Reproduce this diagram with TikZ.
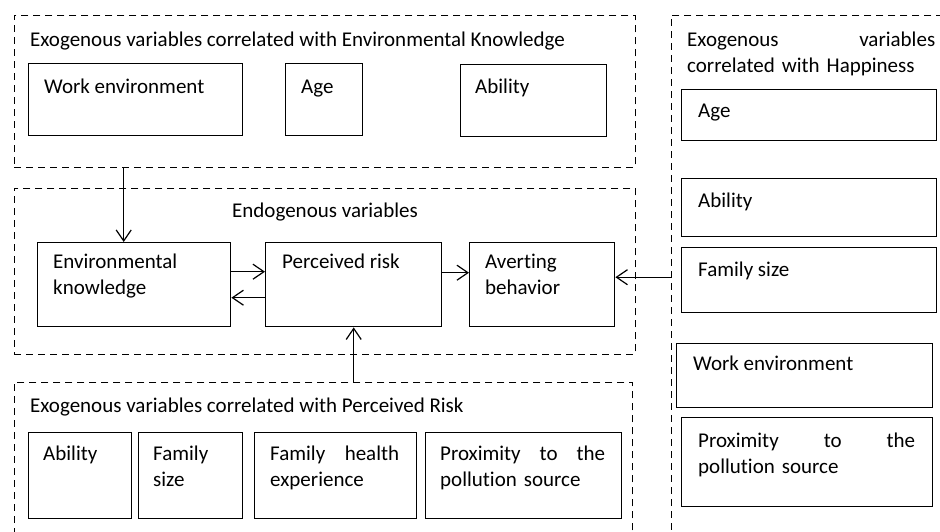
\documentclass[tikz,border=0pt]{standalone}
\usepackage{fontspec}
\setmainfont{Carlito}[Ligatures=NoCommon]
\usetikzlibrary{arrows.meta}
\begin{document}
\begin{tikzpicture}[x=1pt,y=-1pt,
  font=\fontsize{21}{26.5}\selectfont,
  box/.style={draw, line width=1.4pt, inner sep=0pt, anchor=north west},
  grp/.style={draw, line width=0.9pt, dash pattern=on 7pt off 5pt, inner sep=0pt, anchor=north west},
  txt/.style={anchor=base west, inner sep=0pt},
  mtxt/.style={anchor=base west, inner sep=0pt, align=left, text width=#1},
  arr/.style={line width=1.2pt, -{Straight Barb[length=11pt,width=15pt,line width=1.2pt]}}]
\useasboundingbox (0,0) rectangle (940,531);
\clip (0,0) rectangle (940,531);

% dashed groups
\node[grp, minimum width=621pt, minimum height=152pt] (ekgrp) at (14,15) {};
\node[grp, minimum width=621pt, minimum height=166pt] (endgrp) at (14,188) {};
\node[grp, minimum width=618pt, minimum height=190pt] (rskgrp) at (14,382) {};
\node[grp, minimum width=300pt, minimum height=560pt] (hapgrp) at (671,15) {};

% exogenous variables: environmental knowledge
\node[txt] (ekttl) at (30,46) {Exogenous variables correlated with Environmental Knowledge};
\node[box, minimum width=214pt, minimum height=72pt] (ekwork) at (28,63) {};
\node[txt] (ekworkt) at (44,93) {Work environment};
\node[box, minimum width=77pt, minimum height=72pt] (ekage) at (285,63) {};
\node[txt] (ekaget) at (301,93) {Age};
\node[box, minimum width=146pt, minimum height=72pt] (ekabil) at (460,64) {};
\node[txt] (ekabilt) at (475,93) {Ability};

% endogenous variables
\node[anchor=base, inner sep=0pt] (endttl) at (325,217) {Endogenous variables};
\node[box, minimum width=193pt, minimum height=84pt] (ek) at (37,242) {};
\node[mtxt=170pt] (ekt) at (53,268) {Environmental\\knowledge};
\node[box, minimum width=176pt, minimum height=84pt] (pr) at (265,242) {};
\node[txt] (prt) at (282,268) {Perceived risk};
\node[box, minimum width=145pt, minimum height=84pt] (ab) at (469,242) {};
\node[mtxt=120pt] (abt) at (485,268) {Averting\\behavior};

% exogenous variables: perceived risk
\node[txt] (rskttl) at (30,412) {Exogenous variables correlated with Perceived Risk};
\node[box, minimum width=103pt, minimum height=86pt] (rabil) at (28,432) {};
\node[txt] (rabilt) at (43,460) {Ability};
\node[box, minimum width=104pt, minimum height=86pt] (rfam) at (138,432) {};
\node[mtxt=80pt] (rfamt) at (153,460) {Family\\size};
\node[box, minimum width=162pt, minimum height=86pt] (rhealth) at (254,432) {};
\node[mtxt=135pt] (rhealtht) at (270,460) {\makebox[129pt][l]{Family\hfill health}\\experience};
\node[box, minimum width=196pt, minimum height=86pt] (rprox) at (425,432) {};
\node[mtxt=175pt] (rproxt) at (440,460) {\makebox[165pt][l]{Proximity\hfill to\hfill the}\\pollution source};

% exogenous variables: happiness
\node[mtxt=252pt] (hapttl) at (687,46) {\makebox[248pt][l]{Exogenous\hfill variables}\\correlated with Happiness};
\node[box, minimum width=255pt, minimum height=51pt] (hage) at (681,89) {};
\node[txt] (haget) at (698,117) {Age};
\node[box, minimum width=255pt, minimum height=58pt] (habil) at (681,178) {};
\node[txt] (habilt) at (698,207) {Ability};
\node[box, minimum width=255pt, minimum height=65pt] (hfam) at (681,247) {};
\node[txt] (hfamt) at (698,276) {Family size};
\node[box, minimum width=256pt, minimum height=64pt] (hwork) at (676,343) {};
\node[txt] (hworkt) at (693,370) {Work environment};
\node[box, minimum width=251pt, minimum height=89pt] (hprox) at (681,417) {};
\node[mtxt=230pt] (hproxt) at (698,447) {\makebox[217pt][l]{Proximity\hfill to\hfill the}\\pollution source};

% connectors
\draw[arr] ([xshift=-10.5pt]ek.north |- ekgrp.south) -- ([xshift=-10.5pt]ek.north);
\draw[arr] ([yshift=13pt]ek.east) -- ([yshift=13pt]ek.east -| pr.west);
\draw[arr] ([yshift=-13pt]pr.west) -- ([yshift=-13pt]pr.west -| ek.east);
\draw[arr] ([yshift=12pt]pr.east) -- ([yshift=12pt]pr.east -| ab.west);
\draw[arr] (rskgrp.north -| pr.south) -- (pr.south);
\draw[arr] ([yshift=7.5pt]ab.east -| hapgrp.west) -- ([yshift=7.5pt]ab.east);
\end{tikzpicture}
\end{document}
